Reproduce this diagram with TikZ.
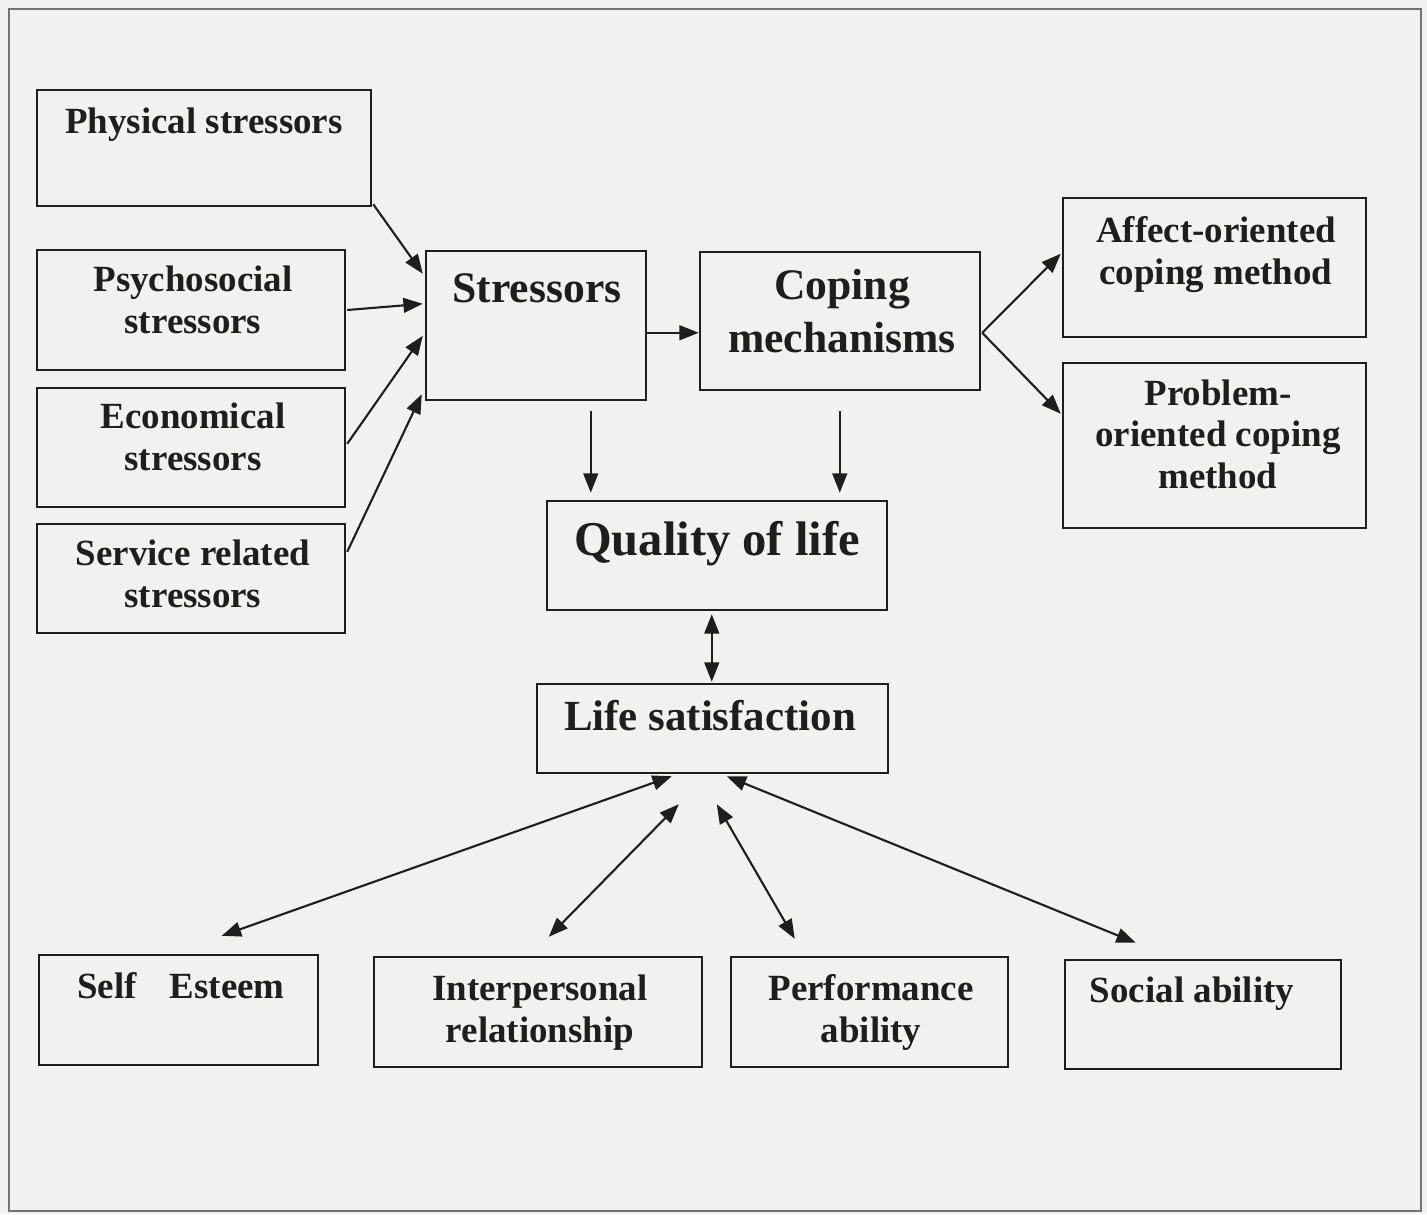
\documentclass[tikz,border=0pt]{standalone}
\usepackage{fontspec}
\setmainfont{Liberation Serif}
\usetikzlibrary{arrows.meta,fit,calc}
\definecolor{bgc}{RGB}{241,241,239}
\definecolor{framec}{RGB}{115,115,115}
\definecolor{ink}{RGB}{30,30,30}
\begin{document}
\begin{tikzpicture}[x=0.01cm,y=-0.01cm,
  box/.style={draw=ink,line width=0.7pt,inner sep=0pt},
  txt/.style={text=ink,font=\bfseries\fontsize{10.5}{11.8}\selectfont,align=center,anchor=base,inner sep=0pt},
  bigtxt/.style={text=ink,font=\bfseries\fontsize{12.4}{14.8}\selectfont,align=center,anchor=base,inner sep=0pt},
  arr/.style={draw=ink,line width=0.6pt,-{Triangle[length=5.5pt,width=4.2pt]}},
  darr/.style={draw=ink,line width=0.6pt,{Triangle[length=5.5pt,width=4.2pt]}-{Triangle[length=5.5pt,width=4.2pt]}}]
% background and frame
\fill[bgc] (0,0) rectangle (1427,1214);
\draw[framec,line width=0.6pt] (9,9) rectangle (1421,1211);
% boxes
\node[box, fit={(37,90) (371,206)}] (phys) {};
\node[box, fit={(37,250) (345,370)}] (psy) {};
\node[box, fit={(37,388) (345,507)}] (eco) {};
\node[box, fit={(37,524) (345,633)}] (serv) {};
\node[box, fit={(426,251) (646,400)}] (str) {};
\node[box, fit={(700,252) (980,390)}] (cop) {};
\node[box, fit={(1063,198) (1366,337)}] (aff) {};
\node[box, fit={(1063,363) (1366,528)}] (prob) {};
\node[box, fit={(547,501) (887,610)}] (qol) {};
\node[box, fit={(537,684) (888,773)}] (ls) {};
\node[box, fit={(39,955) (318,1065)}] (se) {};
\node[box, fit={(374,957) (702,1067)}] (ip) {};
\node[box, fit={(731,957) (1008,1067)}] (pa) {};
\node[box, fit={(1065,960) (1341,1069)}] (sa) {};
% texts (anchor = baseline of the last line)
\node[txt] (tphys) at (204,133) {Physical stressors};
\node[txt] (tpsy) at (193,333) {Psychosocial\\stressors};
\node[txt] (teco) at (193,470) {Economical\\stressors};
\node[txt] (tserv) at (193,607) {Service related\\stressors};
\node[bigtxt] (tstr) at (537,302) {Stressors};
\node[bigtxt] (tcop) at (842,352) {Coping\\mechanisms};
\node[txt] (taff) at (1216,284) {Affect-oriented\\coping method};
\node[txt] (tprob) at (1218,488) {Problem-\\oriented coping\\method};
\node[txt,font=\bfseries\fontsize{13.8}{16}\selectfont] (tqol) at (717,555) {Quality of life};
\node[bigtxt,font=\bfseries\fontsize{12.2}{14}\selectfont] (tls) at (710,730) {Life satisfaction};
\node[txt] (tse) at (181,998) {Self\hspace{0.9em}Esteem};
\node[txt] (tip) at (540,1042) {Interpersonal\\relationship};
\node[txt] (tpa) at (871,1042) {Performance\\ability};
\node[txt] (tsa) at (1192,1002) {Social ability};
% connectors
\draw[arr] ($(phys.south east)+(1,-3)$) -- ($(str.north west)+(-2,24)$);
\draw[arr] ($(psy.east)+(1,0)$) -- ($(str.north west)+(-2,54)$);
\draw[arr] ($(eco.north east)+(1,57)$) -- ($(str.north west)+(-2,86)$);
\draw[arr] ($(serv.north east)+(1,29)$) -- ($(str.south west)+(-3,-7)$);
\draw[arr] ($(str.north east)+(0,83)$) -- ($(cop.north west)+(0,82)$);
\draw[arr] ($(cop.north east)+(1,82)$) -- ($(aff.north west)+(-1,57)$);
\draw[arr] ($(cop.north east)+(1,82)$) -- ($(prob.north west)+(-1,52)$);
\draw[arr] ($(str.south west)+(166,10)$) -- ($(qol.north west)+(45,-7)$);
\draw[arr] ($(cop.south west)+(141,20)$) -- ($(qol.north west)+(294,-7)$);
\draw[darr] ($(qol.south west)+(166,3)$) -- ($(ls.north west)+(176,-1)$);
\draw[darr] ($(ls.south west)+(136,2)$) -- ($(se.north west)+(184,-18)$);
\draw[darr] ($(ls.south west)+(143,30)$) -- ($(ip.north west)+(176,-19)$);
\draw[darr] ($(ls.south west)+(181,30)$) -- ($(pa.north west)+(65,-17)$);
\draw[darr] ($(ls.south west)+(191,2)$) -- ($(sa.north west)+(72,-16)$);
\end{tikzpicture}
\end{document}
